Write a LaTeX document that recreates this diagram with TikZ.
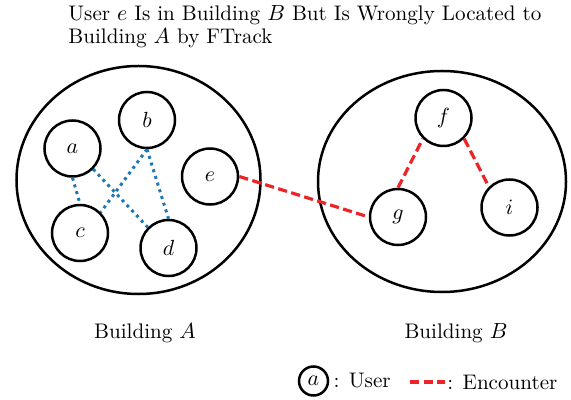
\documentclass[tikz,border=0pt]{standalone}
\usepackage{xcolor}
\usepackage{amsmath}
\usetikzlibrary{positioning,shapes.geometric}

\definecolor{encred}{RGB}{236,36,40}
\definecolor{nearblue}{RGB}{31,119,180}

\begin{document}
\begin{tikzpicture}[x=0.5pt,y=-0.5pt,font=\fontsize{10.55}{11.8}\selectfont,
    user/.style={draw,circle,line width=1.25pt,minimum size=28pt,inner sep=0pt},
    building/.style={draw,ellipse,line width=1.25pt,inner sep=0pt},
    near/.style={nearblue,dotted,line width=1.5pt},
    encounter/.style={encred,dash pattern=on 4.6pt off 2.2pt,line width=1.6pt}]
    \useasboundingbox (0,0) rectangle (571,400);

    \node [anchor=north west,inner sep=0pt,align=left] (title) at (68,5)
      {User $e$ Is in Building $B$ But Is Wrongly Located to\\Building $A$ by FTrack};

    % the two buildings
    \node [building,minimum width=122pt,minimum height=114pt] (bA) at (138.5,180) {};
    \node [building,minimum width=124pt,minimum height=110.5pt] (bB) at (442,181.5) {};
    \node (labA) at (145,333) {Building $A$};
    \node (labB) at (456,333) {Building $B$};

    % users
    \node [user] (a) at (72.5,148.5) {$a$};
    \node [user] (b) at (147,120) {$b$};
    \node [user] (c) at (80,233) {$c$};
    \node [user] (d) at (168.5,248) {$d$};
    \node [user] (e) at (210,176.5) {$e$};
    \node [user] (f) at (443.5,118) {$f$};
    \node [user] (g) at (398,217) {$g$};
    \node [user] (i) at (509.5,207.5) {$i$};

    \draw [near] (a.south) -- (c.north);
    \draw [near] (a.south east) -- (d.north west);
    \draw [near] (b.south) -- (c.north east);
    \draw [near] (b.south) -- (d.north);

    \draw [encounter] (e.east) -- (g.west);
    \draw [encounter] (g.north) -- (f.south west);
    \draw [encounter] (f.south east) -- (i.north west);

    % legend
    \node [user,minimum size=14.5pt] (key) at (313.5,381) {$a$};
    \node [right=2pt of key,inner sep=0pt] (keyuser) {: User};
    \coordinate (encL) at (410,382);
    \coordinate (encR) at (445,382);
    \draw [encounter] (encL) -- (encR);
    \node [right=1pt of encR,inner sep=0pt] (keyenc) {: Encounter};
\end{tikzpicture}
\end{document}
